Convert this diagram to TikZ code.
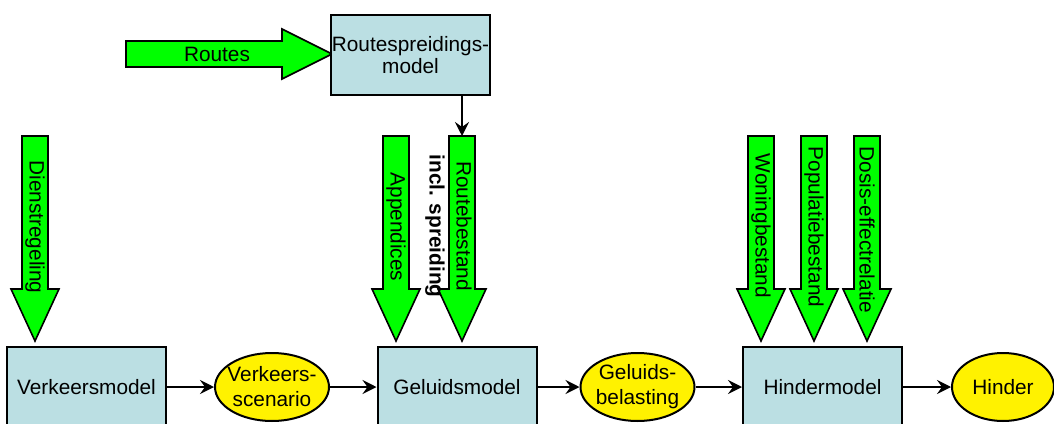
\documentclass[tikz,border=0pt]{standalone}
\usepackage{fontspec}
\setmainfont{Liberation Sans}
\usepackage{xcolor}
\usetikzlibrary{shapes.geometric, arrows.meta}

\definecolor{modelblue}{RGB}{187,223,227}

\tikzset{
	model/.style={draw, line width=1pt, fill=modelblue, minimum width=79.5pt, minimum height=40pt, inner sep=0pt, align=center, font=\fontsize{10.4}{11}\selectfont},
	result/.style={ellipse, draw, line width=1pt, fill=yellow, minimum width=57pt, minimum height=34pt, inner sep=0pt},
	invoer/.style={draw, line width=0.8pt, fill=green},
	tekst/.style={font=\fontsize{10.4}{12.5}\selectfont, align=center, inner sep=0pt},
	flow/.style={line width=1pt, -{Stealth[length=7pt, width=7pt, inset=2.5pt]}}
}

\begin{document}
\begin{tikzpicture}[x=0.5pt, y=-0.5pt]

	\useasboundingbox (0,0) rectangle (1054,423);

	% routes naar het spreidingsmodel
	\draw[invoer] (126,41)--(282,41)--(282,29)--(332,54)--(282,79)--(282,67)--(126,67)--cycle;
	\node[tekst] (routes) at (217,54) {Routes};
	\node[model] (spreiding) at (410.5,55) {Routespreidings-\\model};

	% invoerpijlen
	\def \a {35}
	\draw[invoer] (\a-13,136)--(\a+13,136)--(\a+13,289)--(\a+24,289)--(\a,341)--(\a-24,289)--(\a-13,289)--cycle;
	\node[tekst, rotate=-90] (dienst) at (\a,227) {Dienstregeling};
	\def \a {396}
	\draw[invoer] (\a-13,136)--(\a+13,136)--(\a+13,289)--(\a+24,289)--(\a,341)--(\a-24,289)--(\a-13,289)--cycle;
	\node[tekst, rotate=-90] (appendices) at (\a,227) {Appendices};
	\def \a {462}
	\draw[invoer] (\a-13,136)--(\a+13,136)--(\a+13,289)--(\a+24,289)--(\a,341)--(\a-24,289)--(\a-13,289)--cycle;
	\node[tekst, rotate=-90, font=\fontsize{10.4}{13.5}\selectfont] (bestand) at (\a-13.5,226) {Routebestand\\\textbf{incl. spreiding}};
	\coordinate (bestandtop) at (\a,136);
	\def \a {761}
	\draw[invoer] (\a-13,136)--(\a+13,136)--(\a+13,289)--(\a+24,289)--(\a,341)--(\a-24,289)--(\a-13,289)--cycle;
	\node[tekst, rotate=-90] (woning) at (\a,226) {Woningbestand};
	\def \a {814}
	\draw[invoer] (\a-13,136)--(\a+13,136)--(\a+13,289)--(\a+24,289)--(\a,341)--(\a-24,289)--(\a-13,289)--cycle;
	\node[tekst, rotate=-90] (populatie) at (\a,227) {Populatiebestand};
	\def \a {867}
	\draw[invoer] (\a-13,136)--(\a+13,136)--(\a+13,289)--(\a+24,289)--(\a,341)--(\a-24,289)--(\a-13,289)--cycle;
	\node[tekst, rotate=-90] (dosis) at (\a,230) {Dosis-effectrelatie};

	\draw[flow] (spreiding.south -| bestandtop) -- (bestandtop);

	% modelketen
	\node[model] (verkeer) at (86.5,387) {Verkeersmodel};
	\node[result, label={[tekst]center:Verkeers-\\scenario}] (scenario) at (272,387) {};
	\node[model] (geluid) at (457,387) {Geluidsmodel};
	\node[result, label={[tekst]center:Geluids-\\belasting}] (belasting) at (637.5,387) {};
	\node[model] (hindermodel) at (822.5,387) {Hindermodel};
	\node[result, minimum width=51pt, label={[tekst]center:Hinder}] (hinder) at (1003,387) {};

	\draw[flow] (verkeer) -- (scenario);
	\draw[flow] (scenario) -- (geluid);
	\draw[flow] (geluid) -- (belasting);
	\draw[flow] (belasting) -- (hindermodel);
	\draw[flow] (hindermodel) -- (hinder);

\end{tikzpicture}
\end{document}
